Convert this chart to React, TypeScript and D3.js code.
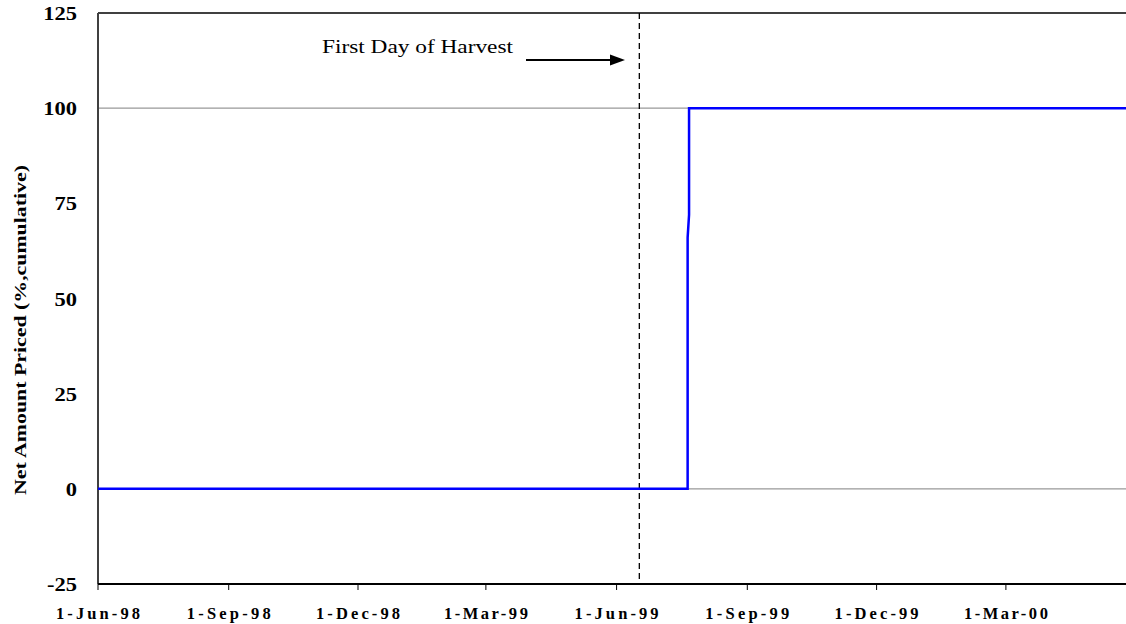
import React from "react";
import * as d3 from "d3";

const dates: string[] = ["1998-06-01", "1999-07-21", "1999-07-21", "1999-07-22", "1999-07-22", "2000-06-01"];
const values: number[] = [0, 0, 66, 72, 100, 100];
const yTicks: number[] = [-25, 0, 25, 50, 75, 100, 125];
const xTickDates: string[] = ["1998-06-01", "1998-09-01", "1998-12-01", "1999-03-01", "1999-06-01", "1999-09-01", "1999-12-01", "2000-03-01"];
const xTickLabels: string[] = ["1-Jun-98", "1-Sep-98", "1-Dec-98", "1-Mar-99", "1-Jun-99", "1-Sep-99", "1-Dec-99", "1-Mar-00"];
const gridValues: number[] = [0, 100];
const harvestDate = "1999-06-17";
const annotation = "First Day of Harvest";
const yTitle = "Net Amount Priced (%,cumulative)";

const W = 1126, H = 624;
const left = 98, top = 13, bottom = 584;

export default function App() {
  const parse = (s: string) => d3.timeParse("%Y-%m-%d")(s) as Date;
  const x = d3.scaleTime().domain([parse("1998-06-01"), parse("2000-06-01")]).range([left, left + 731 * 1.4208]);
  const y = d3.scaleLinear().domain([-25, 125]).range([bottom, top]);
  const pts = dates.map((d, i) => [x(parse(d)), y(values[i])] as [number, number]);
  const line = d3.line()(pts) || "";
  const hx = x(parse(harvestDate));
  const font = "'Liberation Serif', 'Times New Roman', serif";
  return (
    <svg width={W} height={H} style={{ position: "absolute", left: 0, top: 0, background: "#fff" }}>
      {gridValues.map((v) => (
        <line key={v} x1={left} x2={W} y1={y(v)} y2={y(v)} stroke="#999" strokeWidth={1.2} />
      ))}
      <line x1={left} x2={W} y1={top} y2={top} stroke="#404040" strokeWidth={2} />
      <line x1={left} x2={left} y1={top} y2={bottom} stroke="#404040" strokeWidth={2} />
      <line x1={left} x2={W} y1={bottom} y2={bottom} stroke="#000" strokeWidth={2} />
      {xTickDates.map((d, i) => (
        <g key={d}>
          <line x1={x(parse(d))} x2={x(parse(d))} y1={bottom} y2={bottom + 6} stroke="#000" strokeWidth={1} />
          <text x={x(parse(d)) - 42} y={619} fontFamily={font} fontWeight="bold" fontSize={16.5} textLength={84} lengthAdjust="spacing">
            {xTickLabels[i]}
          </text>
        </g>
      ))}
      {yTicks.map((v) => (
        <text key={v} transform={`translate(77,${y(v) + 7}) scale(1.25,1)`} textAnchor="end" fontFamily={font} fontWeight="bold" fontSize={18}>
          {v}
        </text>
      ))}
      <text transform={`translate(26,${495}) rotate(-90)`} fontFamily={font} fontWeight="bold" fontSize={17.5} textLength={330} lengthAdjust="spacingAndGlyphs">
        {yTitle}
      </text>
      <line x1={hx} x2={hx} y1={top} y2={bottom} stroke="#000" strokeWidth={1.3} strokeDasharray="6,4" />
      <path d={line} fill="none" stroke="#0000ff" strokeWidth={2.5} />
      <text x={322} y={53} fontFamily={font} fontSize={18} textLength={191} lengthAdjust="spacingAndGlyphs">{annotation}</text>
      <line x1={526} x2={611} y1={60} y2={60} stroke="#000" strokeWidth={2} />
      <path d="M610,54.5 L625,60 L610,65.5 Z" fill="#000" />
    </svg>
  );
}
